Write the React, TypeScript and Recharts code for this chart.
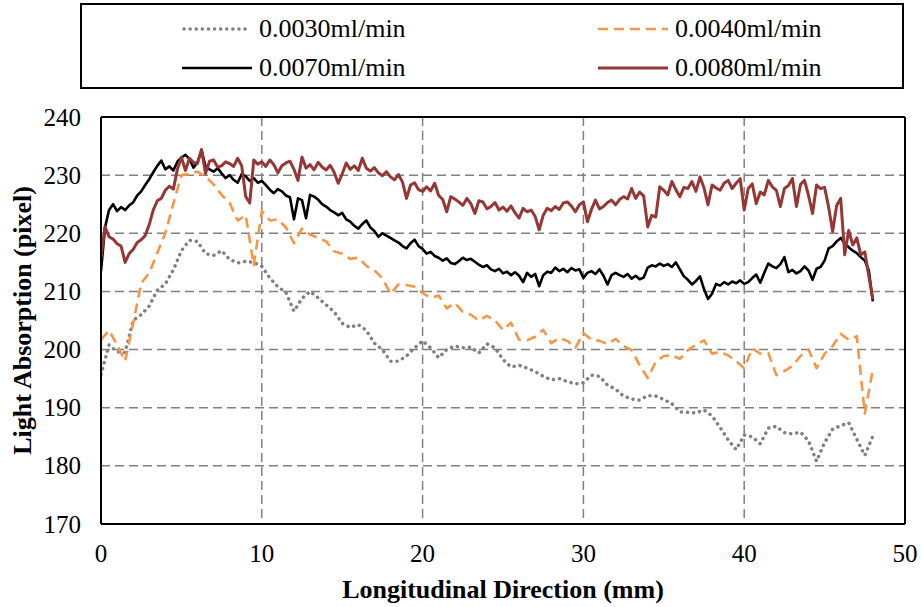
import React from "react";
import {
  LineChart,
  Line,
  XAxis,
  YAxis,
  CartesianGrid,
  Legend,
  Label,
  ReferenceLine,
} from "recharts";

const FONT = '"Liberation Serif", "Times New Roman", serif';

const xTicks = [0, 10, 20, 30, 40, 50];
const yTicks = [170, 180, 190, 200, 210, 220, 230, 240];

// sampling step along the channel (mm)
const fineStep = 0.25;
const coarseStep = 0.5;

// 0.0030 ml/min, every 0.5 mm
const flow0030 = [
  195.7, 200.8, 199.6, 199.5, 205, 206, 207.5, 210.2,
  211.3, 213.7, 217, 218.8, 218.6, 216.5, 216.2, 217,
  215.5, 214.9, 215.2, 215, 214.3, 212.3, 210.8, 209.8,
  206.6, 208.8, 210, 208.9, 207.7, 206.5, 204.5, 203.8,
  204.3, 203.3, 201.1, 200, 198, 198, 198.9, 200.3,
  201.5, 200.3, 198.6, 200, 200.6, 200.3, 200.4, 199.4,
  201, 200.3, 198.3, 197, 197.3, 196.8, 196.2, 195.4,
  194.8, 195, 194.5, 194.1, 194.3, 195.6, 195.4, 193.9,
  193.2, 192, 191.5, 191.3, 192.1, 192, 191.4, 190.7,
  189.3, 189.2, 189.1, 189.6, 188.6, 186.6, 184.5, 182.8,
  185.3, 185, 183.8, 186.5, 186.8, 185.7, 185.5, 185.8,
  184.3, 180.8, 184, 186.3, 186.9, 187.4, 184.6, 181.8,
  185.1,
];

// 0.0040 ml/min, every 0.5 mm
const flow0040 = [
  201.7, 203.3, 200.8, 198, 204.5, 211.4, 213.2, 216.6,
  220, 225.1, 230, 230.2, 230.6, 229.8, 228.4, 226.6,
  225.2, 222.2, 223.1, 214.5, 223.8, 222.2, 222.4, 221,
  218.3, 220.8, 219.8, 219.2, 218.6, 216.9, 216.5, 215.6,
  215.8, 214.4, 213.6, 212.3, 209.6, 211.2, 211.1, 210.8,
  209.7, 208.9, 209.3, 207.1, 208, 206.5, 206, 205,
  205.8, 205, 203.4, 204.6, 201.7, 201.6, 202.2, 203.4,
  201.1, 202, 201.5, 200.3, 202.8, 201.7, 201.5, 201,
  201.8, 200.6, 199.9, 197.3, 195.1, 197.9, 198.9, 199,
  198.4, 199.9, 200.8, 201.6, 199.3, 199.6, 199, 198,
  196.8, 200.2, 199.3, 199.4, 195.6, 196.3, 197.2, 198.9,
  200, 196.8, 199.3, 200.6, 202.7, 201.7, 202.3, 189,
  196.6,
];

// 0.0070 ml/min, every 0.25 mm
const flow0070 = [
  213.5, 221, 224, 225, 223.8, 224.5, 224, 224.8,
  225.3, 226.5, 227.2, 228.3, 229.3, 230.5, 231.6, 232.5,
  231, 231.5, 230.8, 232.3, 233, 233.5, 232.8, 231.3,
  232.2, 234.3, 231.5, 231, 230.6, 231.2, 230.3, 229.5,
  230, 229.2, 228.7, 230.2, 229.8, 229, 229.5, 228.7,
  229, 228.3, 227.5, 226.9, 227.6, 227.2, 226.5, 226.2,
  222.4, 226, 225.7, 222.6, 226.6, 226.3, 225.8, 225,
  224.6, 224, 223.6, 223.1, 223.5, 222.4, 222, 221.3,
  220.8, 221.6, 222.2, 221, 220.4, 219.4, 220, 219.6,
  219.2, 218.8, 218.4, 217.8, 217.4, 218.3, 218.9, 217.8,
  217.3, 216.5, 216.8, 216.1, 215.8, 215.3, 215.7, 214.9,
  214.7, 215.2, 215.8, 215.4, 215.6, 215.1, 214.6, 214.2,
  214.5, 213.8, 213.5, 213.9, 213.1, 213.4, 212.8, 213.3,
  212.7, 211.6, 213.2, 212.5, 213, 210.9, 212.8, 213.4,
  213.2, 214.1, 213.5, 213.9, 213.3, 214, 213.6, 213.8,
  212.3, 213.2, 213.5, 213, 213.8, 212.7, 211.2, 212.8,
  213.2, 212.8, 212.5, 213, 212.2, 212.7, 212.1, 212.4,
  214.1, 214.5, 214.3, 214.8, 214.4, 214.7, 214.2, 215,
  213.8, 212.6, 212, 211.2, 211.8, 212.6, 210.4, 208.7,
  209.6, 211.3, 211, 211.6, 211.2, 211.7, 211.4, 211.9,
  211.3, 211.6, 212.3, 212.9, 211.5, 213.2, 214.8, 214.3,
  214, 214.7, 215.9, 213.3, 213.7, 213.1, 213.5, 214.3,
  213.6, 212, 213.9, 214.2, 215.3, 217.4, 217.8, 218.6,
  219.2, 218.3, 217.6, 217, 216.6, 215.9, 215.3, 213.6,
  208.3,
];

// 0.0080 ml/min, every 0.25 mm
const flow0080 = [
  215.8, 221.1, 219.4, 219, 218.2, 217.8, 215, 216.5,
  217.2, 218.4, 218.9, 219.6, 221.5, 224, 225.6, 226,
  227.4, 228.1, 227.6, 231, 233.1, 230.8, 232.9, 232.2,
  232, 234.4, 230.3, 232.4, 232.6, 231.4, 231.6, 232.3,
  232, 231.5, 232.9, 231.6, 226.3, 225.2, 232.6, 231.9,
  232.3, 231.5, 232.6, 231.8, 230.4, 231.6, 232.1, 232.4,
  231, 229.1, 233.1, 231.2, 231.8, 230.9, 232.2, 231.4,
  230.9, 231.7, 230.5, 228.6, 230.2, 232.1, 231, 231.6,
  230.8, 232.9, 231.2, 230.7, 231.3, 230.4, 229.9, 230.6,
  229.7, 229.2, 230.1, 228.8, 226, 228.3, 228.7, 227.5,
  227.2, 228, 227.3, 228.6, 226.5, 225.8, 223.7, 226.3,
  225.9, 225.4, 224.8, 226, 225.1, 223.4, 225.6, 225.4,
  224.2, 224.6, 225.3, 224, 224.5, 223.8, 224.7, 223.5,
  222.6, 224.3, 223.7, 224, 222.9, 220.6, 223.1, 224.3,
  223.9, 224.6, 224.1, 225.2, 225.4, 224.7, 223.7, 224.9,
  225.4, 222, 224.1, 225.7, 224.2, 224.6, 225.3, 225.7,
  224.9, 225.8, 226.3, 225.9, 227.7, 226, 227.1, 226.4,
  221.1, 223.1, 222.8, 228, 227.4, 226.6, 228.9, 227.5,
  226.3, 227.9, 227.7, 228.9, 227.2, 229.7, 227.8, 224.9,
  228.3, 227.8, 227.4, 228.6, 229.1, 227.7, 228.6, 229.4,
  224, 227.7, 228.5, 225.1, 227.1, 226.6, 229.1, 228,
  227.4, 224.6, 227.7, 228.2, 229.4, 224.6, 228.4, 229.1,
  226.5, 223.4, 228.3, 227.7, 227.9, 224.5, 220.3, 224.8,
  226, 216.3, 220.5, 218, 219.2, 216.3, 216.8, 212.6,
  208.6,
];

const toPoints = (values: number[], step: number) =>
  values.map((y, i) => ({ x: i * step, y }));

const series = [
  {
    name: "0.0030ml/min",
    data: toPoints(flow0030, coarseStep),
    stroke: "#808080",
    width: 3.5,
    dash: "0.1 6",
    cap: "round",
  },
  {
    name: "0.0040ml/min",
    data: toPoints(flow0040, coarseStep),
    stroke: "#F79646",
    width: 2.6,
    dash: "10 6",
    cap: "butt",
  },
  {
    name: "0.0070ml/min",
    data: toPoints(flow0070, fineStep),
    stroke: "#000000",
    width: 2.6,
    dash: undefined,
    cap: "butt",
  },
  {
    name: "0.0080ml/min",
    data: toPoints(flow0080, fineStep),
    stroke: "#953735",
    width: 3,
    dash: undefined,
    cap: "butt",
  },
];

// legend slots: [left, rowCenter] inside the legend box
const legendSlots = [
  [100, 24],
  [516, 24],
  [100, 63],
  [516, 63],
];

const renderLegend = () => (
  <div
    style={{
      position: "relative",
      width: 824,
      height: 86,
      border: "2px solid #000",
      boxSizing: "border-box",
      background: "#fff",
    }}
  >
    {series.map((s, i) => (
      <div
        key={s.name}
        style={{
          position: "absolute",
          left: legendSlots[i][0],
          top: legendSlots[i][1] - 20,
          height: 40,
          display: "flex",
          alignItems: "center",
        }}
      >
        <svg width={70} height={10} style={{ marginRight: 7 }}>
          <line
            x1={s.cap === "round" ? 2 : 0}
            y1={5}
            x2={s.cap === "round" ? 68 : 70}
            y2={5}
            stroke={s.stroke}
            strokeWidth={s.width}
            strokeDasharray={s.dash}
            strokeLinecap={s.cap as any}
          />
        </svg>
        <span
          style={{
            fontFamily: FONT,
            fontSize: 26,
            lineHeight: "26px",
            color: "#000",
          }}
        >
          {s.name}
        </span>
      </div>
    ))}
  </div>
);

const XTick = (props: any) => {
  const { x, y, payload } = props;
  return (
    <text
      x={x}
      y={y}
      dy={17}
      textAnchor="middle"
      fontFamily={FONT}
      fontSize={25}
      fill="#000"
    >
      {payload.value}
    </text>
  );
};

const YTick = (props: any) => {
  const { x, y, payload } = props;
  return (
    <text
      x={x}
      y={y}
      dy={8.5}
      textAnchor="end"
      fontFamily={FONT}
      fontSize={25}
      fill="#000"
    >
      {payload.value}
    </text>
  );
};

const YTitle = (props: any) => {
  const vb = props.viewBox || { y: 117, height: 407 };
  const cx = 22;
  const cy = vb.y + vb.height / 2;
  return (
    <text
      x={cx}
      y={cy}
      transform={`rotate(-90, ${cx}, ${cy})`}
      textAnchor="middle"
      dominantBaseline="central"
      fontFamily={FONT}
      fontWeight="bold"
      fontSize={26}
      fill="#000"
    >
      Light Absorption (pixel)
    </text>
  );
};

const XTitle = (props: any) => {
  const vb = props.viewBox || { x: 101, y: 524, width: 804 };
  return (
    <text
      x={vb.x + vb.width / 2}
      y={vb.y + 74}
      textAnchor="middle"
      fontFamily={FONT}
      fontWeight="bold"
      fontSize={26}
      fill="#000"
    >
      Longitudinal Direction (mm)
    </text>
  );
};

const App = () => {
  return (
    <div
      style={{
        position: "absolute",
        left: 0,
        top: 0,
        width: 922,
        height: 607,
        background: "#fff",
      }}
    >
      <LineChart
        width={922}
        height={607}
        margin={{ top: 117, right: 17, bottom: 0, left: 0 }}
      >
        <CartesianGrid
          stroke="#808080"
          strokeDasharray="9 5"
          strokeWidth={1.5}
        />
        <XAxis
          dataKey="x"
          type="number"
          domain={[0, 50]}
          ticks={xTicks}
          allowDataOverflow
          height={83}
          tickLine={false}
          tickSize={0}
          tickMargin={21}
          axisLine={{ stroke: "#000", strokeWidth: 2 }}
          tick={XTick}
        >
          <Label content={XTitle} />
        </XAxis>
        <YAxis
          type="number"
          domain={[170, 240]}
          ticks={yTicks}
          allowDataOverflow
          width={101}
          tickLine={false}
          tickSize={0}
          tickMargin={20}
          axisLine={{ stroke: "#000", strokeWidth: 2 }}
          tick={YTick}
        >
          <Label content={YTitle} />
        </YAxis>
        <ReferenceLine y={240} stroke="#000" strokeWidth={2} />
        <ReferenceLine x={50} stroke="#000" strokeWidth={2} />
        <Legend
          content={renderLegend}
          layout="horizontal"
          verticalAlign="middle"
          align="center"
          wrapperStyle={{ position: "absolute", left: 80, top: 3, width: 824 }}
        />
        {series.map((s) => (
          <Line
            key={s.name}
            data={s.data}
            dataKey="y"
            name={s.name}
            type="linear"
            stroke={s.stroke}
            strokeWidth={s.width}
            strokeDasharray={s.dash}
            strokeLinecap={s.cap as any}
            strokeLinejoin="round"
            dot={false}
            activeDot={false}
            isAnimationActive={false}
          />
        ))}
      </LineChart>
    </div>
  );
};

export default App;
